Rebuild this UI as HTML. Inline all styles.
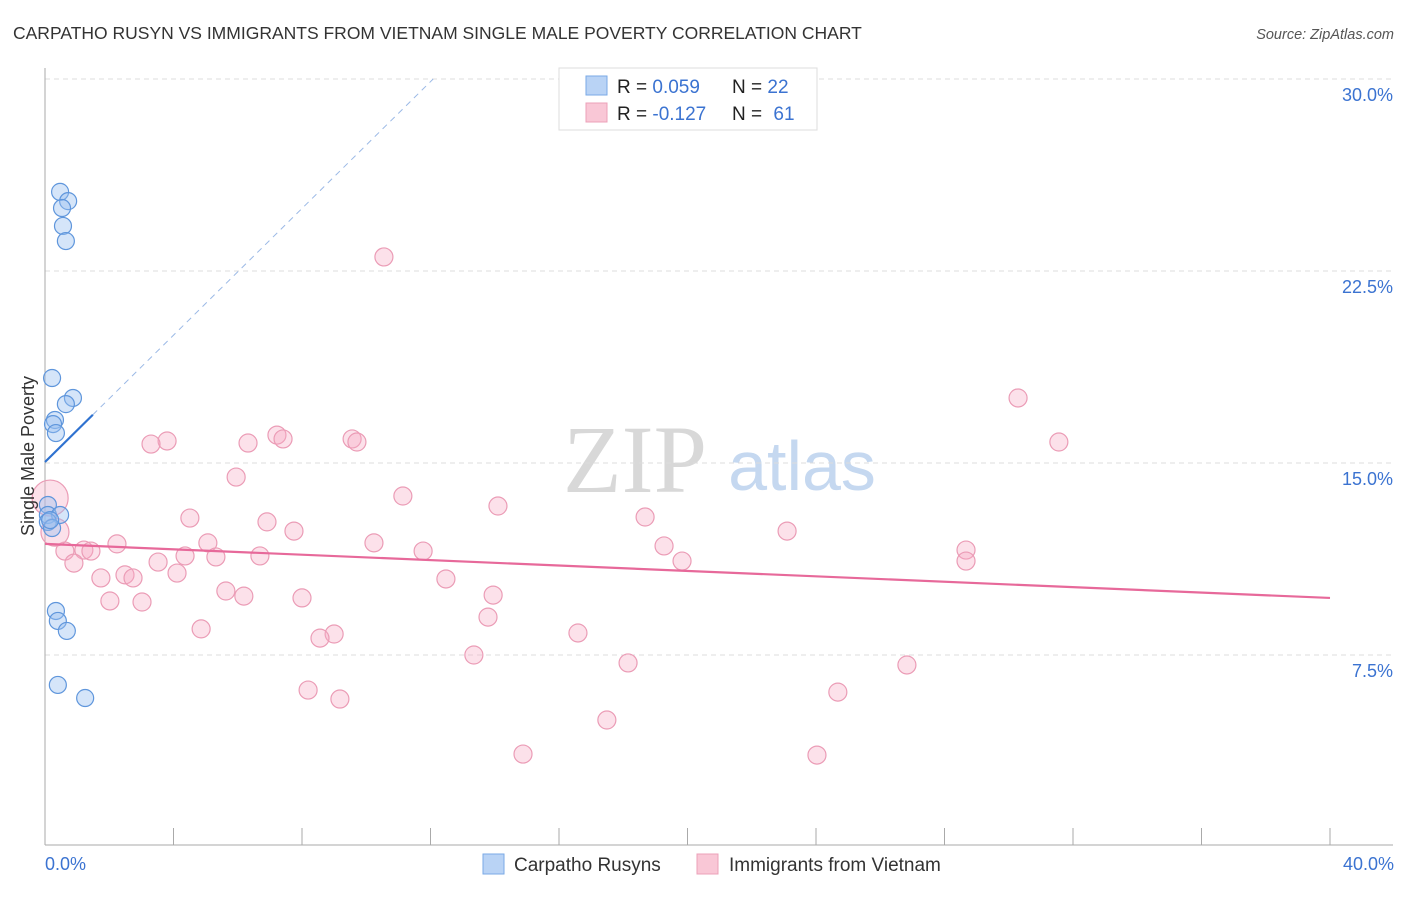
<!DOCTYPE html>
<html><head><meta charset="utf-8"><style>
body{margin:0;background:#fff;}
svg text{font-family:"Liberation Sans",sans-serif;}
</style></head><body>
<svg id="chart" width="1406" height="892" viewBox="0 0 1406 892">
<text x="13" y="39" font-size="17.5" fill="#333">CARPATHO RUSYN VS IMMIGRANTS FROM VIETNAM SINGLE MALE POVERTY CORRELATION CHART</text>
<text x="1394" y="39" font-size="14.5" fill="#555" font-style="italic" text-anchor="end">Source: ZipAtlas.com</text>
<g>
<text x="635" y="492" font-size="96" fill="#d8d8d8" font-family="Liberation Serif" text-anchor="middle" style="font-family:'Liberation Serif',serif">ZIP</text>
<text x="802" y="490" font-size="70" fill="#c5d8f0" text-anchor="middle">atlas</text>
</g>
<g id="grid"></g>
<g id="axes"></g>
<g id="marks"></g>
<text transform="translate(34,456) rotate(-90)" font-size="18" fill="#333" text-anchor="middle">Single Male Poverty</text>
<text x="45" y="870" font-size="18" fill="#3b73d1">0.0%</text>
<text x="1394" y="870" font-size="18" fill="#3b73d1" text-anchor="end">40.0%</text>
<g>
<rect x="559" y="68" width="258" height="62" fill="#fff" stroke="#ddd"/>
<rect x="586" y="76" width="21" height="19" fill="#b9d3f5" stroke="#7aaae6"/>
<rect x="586" y="103" width="21" height="19" fill="#f9c7d6" stroke="#eca0b8"/>
<text x="617" y="93" font-size="19" fill="#222">R = <tspan fill="#3b73d1">0.059</tspan><tspan x="732">N = </tspan><tspan fill="#3b73d1">22</tspan></text>
<text x="617" y="120" font-size="19" fill="#222">R = <tspan fill="#3b73d1">-0.127</tspan><tspan x="732">N = </tspan><tspan fill="#3b73d1" dx="6">61</tspan></text>
</g>
<g>
<rect x="483" y="854" width="21" height="20" fill="#b9d3f5" stroke="#7aaae6"/>
<text x="514" y="871" font-size="19" fill="#333">Carpatho Rusyns</text>
<rect x="697" y="854" width="21" height="20" fill="#f9c7d6" stroke="#eca0b8"/>
<text x="729" y="871" font-size="19" fill="#333">Immigrants from Vietnam</text>
</g>
</svg>
<script>
const yTicks=[7.5,15,22.5,30];
const yTickLabels=["7.5%","15.0%","22.5%","30.0%"];
const xTicks=[4,8,12,16,20,24,28,32,36,40];
const blueX=[0.47,0.72,0.53,0.56,0.65,0.22,0.87,0.65,0.31,0.25,0.34,0.09,0.09,0.47,0.09,0.22,0.34,0.40,0.68,0.40,1.25,0.16];
const blueY=[25.59,25.23,24.96,24.26,23.67,18.32,17.54,17.30,16.68,16.52,16.17,13.36,12.97,12.97,12.70,12.46,9.22,8.83,8.44,6.33,5.82,12.77];
const pinkX=[10.55,30.29,31.56,3.80,3.30,6.32,7.22,7.41,9.56,9.71,5.95,11.14,14.10,4.51,6.91,7.75,18.68,23.10,2.24,5.07,10.24,11.77,19.27,28.67,28.67,1.21,1.43,0.62,0.90,3.52,4.36,5.32,6.69,19.83,12.48,1.74,2.49,2.74,4.11,5.63,6.19,13.95,2.02,3.02,8.00,13.79,4.86,16.59,9.00,8.56,13.35,18.15,26.83,8.19,9.18,24.68,17.49,14.88,24.03,0.16,0.31];
const pinkY=[23.05,17.54,15.82,15.86,15.74,15.78,16.09,15.94,15.94,15.82,14.45,13.71,13.32,12.85,12.70,12.34,12.89,12.34,11.84,11.88,11.88,11.56,11.76,11.60,11.17,11.60,11.56,11.56,11.09,11.13,11.37,11.33,11.37,11.17,10.47,10.51,10.63,10.51,10.70,10.00,9.80,9.84,9.61,9.57,9.73,8.98,8.52,8.36,8.32,8.16,7.50,7.19,7.11,6.13,5.78,6.05,4.96,3.63,3.59,13.63,12.30];
const pinkSize=[9,9,9,9,9,9,9,9,9,9,9,9,9,9,9,9,9,9,9,9,9,9,9,9,9,9,9,9,9,9,9,9,9,9,9,9,9,9,9,9,9,9,9,9,9,9,9,9,9,9,9,9,9,9,9,9,9,9,9,18,14];
const blueTrend=[15.04,1.238];
const pinkTrend=[11.84,-0.0528];

const NS="http://www.w3.org/2000/svg";
const sx=v=>45+v/40*1285;
const sy=v=>847-v/7.5*192;
function mk(parent,tag,attrs){const e=document.createElementNS(NS,tag);for(const k in attrs)e.setAttribute(k,attrs[k]);document.getElementById(parent).appendChild(e);return e;}
yTicks.forEach((t,i)=>{
 const g=mk('grid','line',{x1:45,x2:1393,y1:sy(t),y2:sy(t),stroke:'#ddd','stroke-dasharray':'5,4'});
 
 
 const l=mk('axes','text',{x:1393,y:sy(t)+22,'font-size':18,fill:'#3b73d1','text-anchor':'end'});
 l.textContent=yTickLabels[i];
 
 
});
const ax=mk('axes','line',{x1:45,x2:45,y1:68,y2:845,stroke:'#aaa'});


const bx=mk('axes','line',{x1:45,x2:1393,y1:845,y2:845,stroke:'#aaa'});


xTicks.forEach(t=>{
 const tk=mk('axes','line',{x1:sx(t),x2:sx(t),y1:828,y2:845,stroke:'#aaa'});
 
 
});
pinkX.forEach((x,i)=>{
 const c=mk('marks','circle',{cx:sx(x),cy:sy(pinkY[i]),r:pinkSize[i],fill:'rgba(245,170,195,0.35)',stroke:'#eb9cb6','stroke-width':1.2});
 
 
});
blueX.forEach((x,i)=>{
 const c=mk('marks','circle',{cx:sx(x),cy:sy(blueY[i]),r:8.5,fill:'rgba(150,190,240,0.4)',stroke:'#5f96dc','stroke-width':1.2});
 
 
});
const pt=mk('marks','line',{x1:sx(0),y1:sy(pinkTrend[0]),x2:sx(40),y2:sy(pinkTrend[0]+pinkTrend[1]*40),stroke:'#e7699a','stroke-width':2.2});


const bxEnd=1.49;
const bt=mk('marks','line',{x1:sx(0),y1:sy(blueTrend[0]),x2:sx(bxEnd),y2:sy(blueTrend[0]+blueTrend[1]*bxEnd),stroke:'#2f72d0','stroke-width':2.2});


const xd=(30-blueTrend[0])/blueTrend[1];
const bd=mk('marks','line',{x1:sx(bxEnd),y1:sy(blueTrend[0]+blueTrend[1]*bxEnd),x2:sx(xd),y2:sy(30),stroke:'#9bb9e6','stroke-width':1,'stroke-dasharray':'6,5'});


</script>
</body></html>
